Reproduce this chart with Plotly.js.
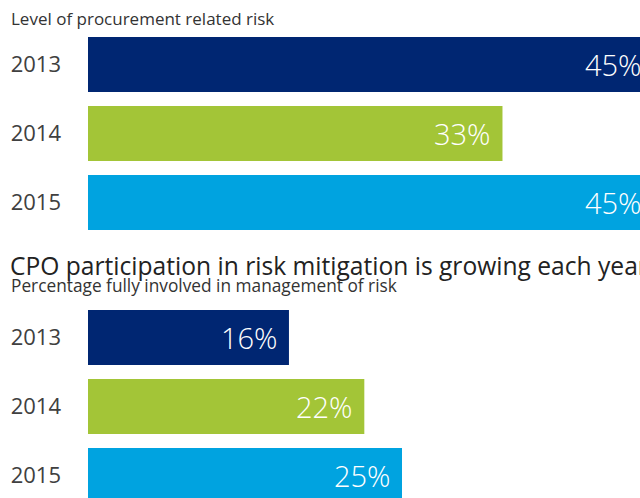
<!DOCTYPE html>
<html>
<head>
<meta charset="utf-8">
<script src="https://cdn.plot.ly/plotly-3.0.1.min.js"></script>
<style>
html,body{margin:0;padding:0;overflow:hidden;background:#fff;width:640px;height:498px;}
#chart{width:660px;height:515px;}
</style>
</head>
<body>
<div id="chart"></div>
<script>
// Data
const years = ["2013", "2014", "2015"];
const riskLevel = [45, 33, 45];            // Level of procurement related risk (%)
const cpoParticipation = [16, 22, 25];     // Percentage fully involved in management of risk (%)
const barColors = ["#002672", "#A3C537", "#00A3E0"];
const topSubtitle = "Level of procurement related risk";
const bottomTitle = "CPO participation in risk mitigation is growing each year";
const bottomSubtitle = "Percentage fully involved in management of risk";

const W = 660, H = 515, L = 88;
const py = px => 1 - px / H;
const pxX = px => (px - L) / (W - L);
const FONT = "Open Sans, Noto Sans, sans-serif";

const traces = [
  {type: "bar", orientation: "h", x: riskLevel, y: years, xaxis: "x", yaxis: "y",
   marker: {color: barColors}, hoverinfo: "none", showlegend: false},
  {type: "bar", orientation: "h", x: cpoParticipation, y: years, xaxis: "x2", yaxis: "y2",
   marker: {color: barColors}, hoverinfo: "none", showlegend: false}
];

const xRange = [0, (W - L) / 12.56];
const axX = {range: xRange, showgrid: false, zeroline: false, showticklabels: false, showline: false, fixedrange: true};
const axY = {type: "category", range: [2.5, -0.5], showgrid: false, zeroline: false, showline: false, ticks: "",
  tickfont: {family: FONT, size: 22, color: "#404040"}, ticklabelstandoff: 26, fixedrange: true};

const annotations = [];
function labels(vals, xref, yref) {
  vals.forEach((v, i) => annotations.push({
    x: v, y: i, xref: xref, yref: yref, text: v + "%", showarrow: false,
    xanchor: "right", yanchor: "middle", xshift: -9,
    font: {family: FONT, size: 29, color: "#ffffff", weight: 300}
  }));
}
labels(riskLevel, "x", "y");
labels(cpoParticipation, "x2", "y2");

annotations.push({xref: "paper", yref: "paper", x: pxX(9), y: py(18), xanchor: "left", yanchor: "middle",
  text: topSubtitle, showarrow: false, font: {family: FONT, size: 17, color: "#333333"}});
annotations.push({xref: "paper", yref: "paper", x: pxX(8), y: py(265), xanchor: "left", yanchor: "middle",
  text: bottomTitle, showarrow: false, font: {family: FONT, size: 24.6, color: "#222222"}});
annotations.push({xref: "paper", yref: "paper", x: pxX(9), y: py(285), xanchor: "left", yanchor: "middle",
  text: bottomSubtitle, showarrow: false, font: {family: FONT, size: 17.3, color: "#333333"}});

const layout = {
  width: W, height: H,
  margin: {l: L, r: 0, t: 0, b: 0, pad: 0},
  paper_bgcolor: "#ffffff", plot_bgcolor: "#ffffff",
  bargap: 0.2,
  xaxis: Object.assign({}, axX, {domain: [0, 1], anchor: "y"}),
  yaxis: Object.assign({}, axY, {domain: [py(237), py(30)], anchor: "x"}),
  xaxis2: Object.assign({}, axX, {domain: [0, 1], anchor: "y2"}),
  yaxis2: Object.assign({}, axY, {domain: [py(510), py(303)], anchor: "x2"}),
  annotations: annotations,
  font: {family: FONT}
};

Plotly.newPlot("chart", traces, layout, {displayModeBar: false, staticPlot: true});
</script>
</body>
</html>
